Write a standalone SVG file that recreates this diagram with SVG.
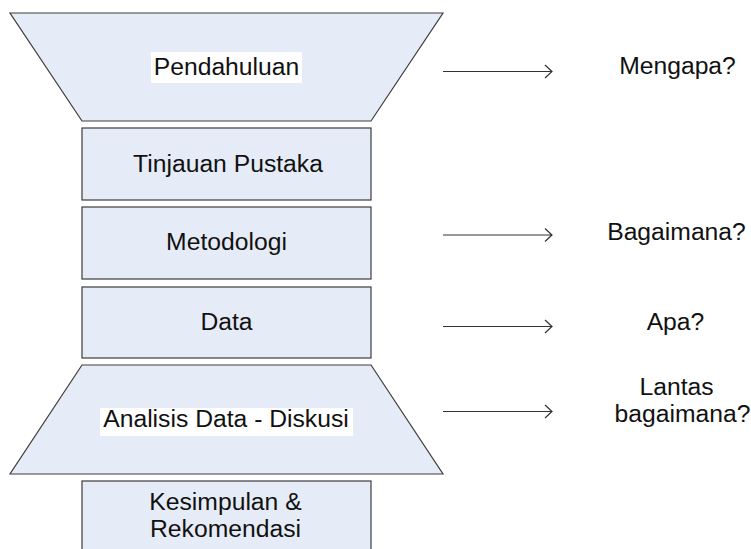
<svg xmlns="http://www.w3.org/2000/svg" width="751" height="549" viewBox="0 0 751 549">
<style>
.sh{fill:#e6ecf7;stroke:#3c3c3c;stroke-width:1.2}
.t{font-family:"Liberation Sans",Arial,sans-serif;font-size:24.7px;fill:#111;text-anchor:middle}
.bg{fill:#ffffff}
.ar{stroke:#333;stroke-width:1.2;fill:none}
</style>
<rect width="751" height="549" fill="#ffffff"/>
<g id="pendahuluan">
<polygon class="sh" points="10,13 443,13 371,121 82,121"/>
<rect class="bg" x="151" y="52" width="151" height="31"/>
<text class="t" x="226.5" y="74.5">Pendahuluan</text>
</g>
<g id="tinjauan">
<rect class="sh" x="82" y="128" width="289" height="72"/>
<text class="t" x="228" y="171.5">Tinjauan Pustaka</text>
</g>
<g id="metodologi">
<rect class="sh" x="82" y="207" width="289" height="72"/>
<text class="t" x="226.5" y="249.5">Metodologi</text>
</g>
<g id="data">
<rect class="sh" x="82" y="287" width="289" height="71"/>
<text class="t" x="226.5" y="330">Data</text>
</g>
<g id="analisis">
<polygon class="sh" points="82,365 371,365 443,474 10,474"/>
<rect class="bg" x="100" y="408" width="253" height="28"/>
<text class="t" x="226" y="427">Analisis Data - Diskusi</text>
</g>
<g id="kesimpulan">
<rect class="sh" x="82" y="481" width="289" height="80"/>
<text class="t" x="225.5" y="510">Kesimpulan &amp;</text>
<text class="t" x="225.5" y="537">Rekomendasi</text>
</g>
<g id="connectors">
<path class="ar" d="M443,71.5H552M545,65L552,71.5L545,78"/>
<path class="ar" d="M443,235H552M545,228.5L552,235L545,241.5"/>
<path class="ar" d="M443,326.5H552M545,320L552,326.5L545,333"/>
<path class="ar" d="M443,411.5H552M545,405L552,411.5L545,418"/>
</g>
<g id="labels">
<text class="t" x="677.5" y="74">Mengapa?</text>
<text class="t" x="676.5" y="240">Bagaimana?</text>
<text class="t" x="675.5" y="330">Apa?</text>
<text class="t" x="676.5" y="395">Lantas</text>
<text class="t" x="682.5" y="422">bagaimana?</text>
</g>
</svg>
